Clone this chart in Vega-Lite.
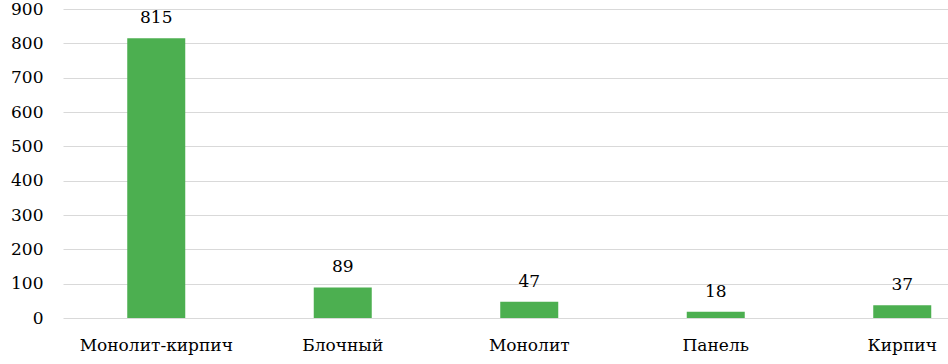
{
  "$schema": "https://vega.github.io/schema/vega-lite/v6.json",
  "width": 885,
  "height": 309,
  "autosize": {"type": "none"},
  "padding": {"left": 63, "top": 9, "right": 0, "bottom": 37},
  "background": "white",
  "config": {"view": {"stroke": null}, "font": "DejaVu Serif"},
  "data": {"values": [
    {"type": "Монолит-кирпич", "value": 815},
    {"type": "Блочный", "value": 89},
    {"type": "Монолит", "value": 47},
    {"type": "Панель", "value": 18},
    {"type": "Кирпич", "value": 37}
  ]},
  "encoding": {
    "x": {"field": "type", "type": "nominal", "sort": null,
      "scale": {"range": [0, 932.5], "paddingInner": 0.689, "paddingOuter": 0.3445},
      "axis": {"title": null, "labelAngle": 0, "domain": false, "ticks": false, "labelFont": "DejaVu Serif", "labelFontSize": 17, "labelColor": "#000000", "labelPadding": 19}},
    "y": {"field": "value", "type": "quantitative",
      "scale": {"domain": [0, 900], "nice": false},
      "axis": {"title": null, "values": [0,100,200,300,400,500,600,700,800,900], "domain": false, "ticks": false, "labelFont": "DejaVu Serif", "labelFontSize": 17, "labelColor": "#000000", "labelPadding": 20, "gridColor": "#d9d9d9", "gridWidth": 1}}
  },
  "layer": [
    {"mark": {"type": "bar", "color": "#4CAF50"}},
    {"mark": {"type": "text", "baseline": "alphabetic", "dy": -15, "font": "DejaVu Serif", "fontSize": 17, "color": "#000000"},
      "encoding": {"text": {"field": "value", "type": "quantitative"}}}
  ]
}
